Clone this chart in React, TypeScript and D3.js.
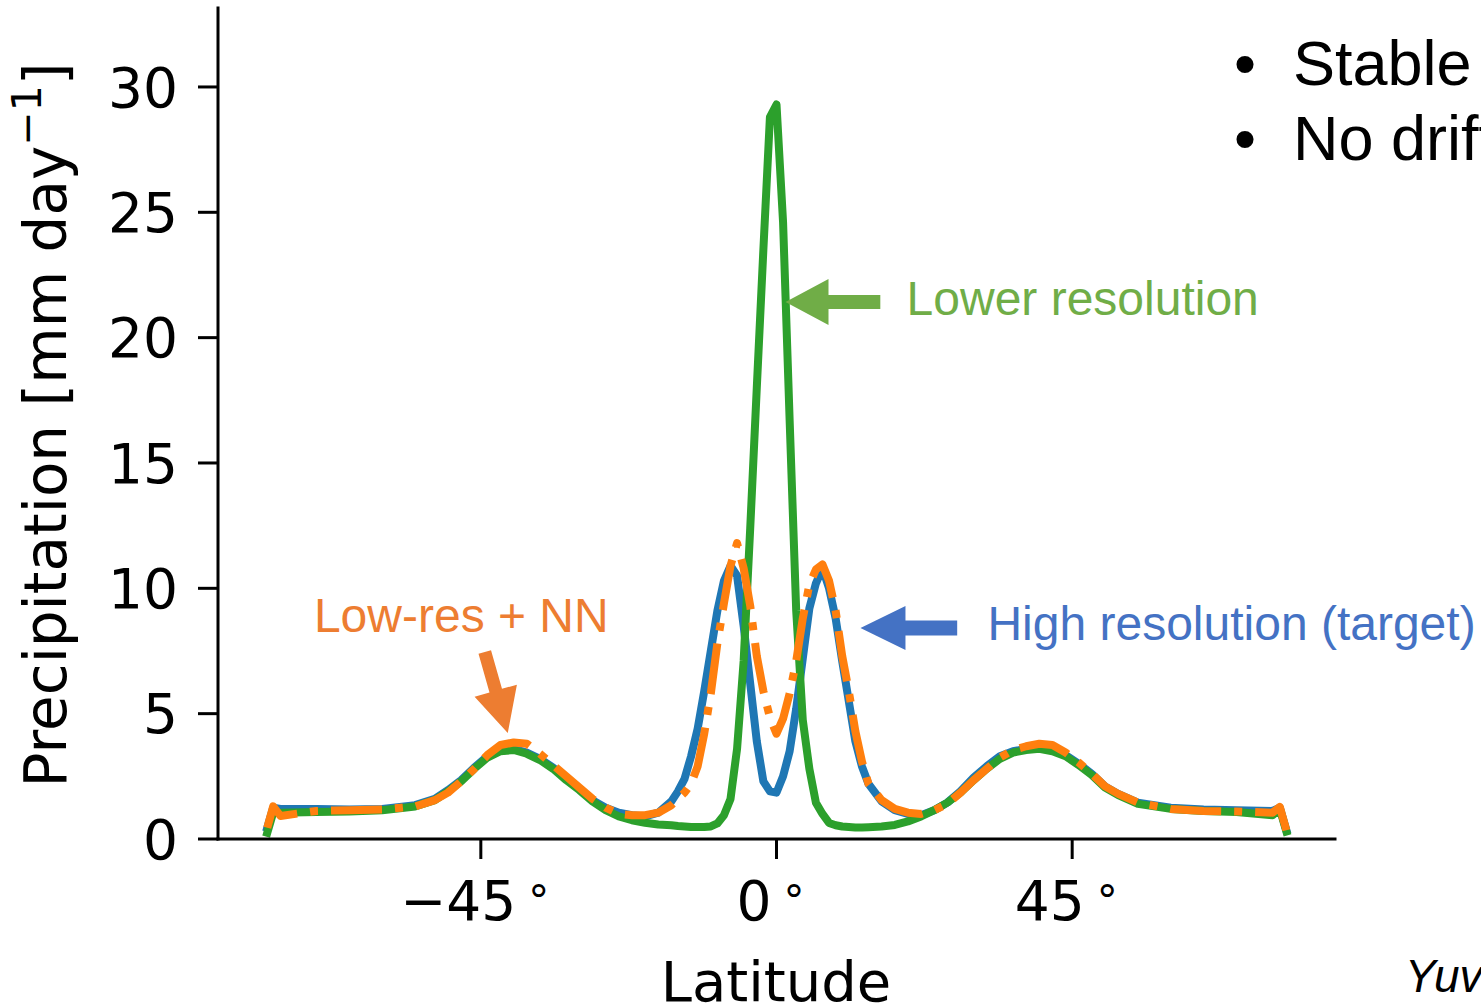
import React from "react";
import * as d3 from "d3";

// zonal mean precipitation
const latitude = [
  -77.5, -76.6, -75.5, -70, -65, -60, -55, -52, -50, -48, -46, -44, -42, -40, -38, -36, -34, -32, -30, -28,
  -26, -24, -22, -20, -18, -16, -15, -14, -13, -12, -11, -10, -9, -8, -7, -6, -5, -4, -3, -2, -1, 0,
  1, 2, 3, 4, 5, 6, 7, 8, 9, 10, 11, 12, 13, 14, 16, 18, 20, 22, 24, 26, 28, 30, 32, 34, 36, 38, 40, 42,
  44, 46, 48, 50, 52, 55, 60, 65, 70, 75.5, 76.6, 77.6,
];
const highRes = [
  0.45, 1.25, 1.2, 1.2, 1.18, 1.2, 1.35, 1.6, 1.95, 2.35, 2.85, 3.3, 3.55, 3.6, 3.45, 3.2, 2.85, 2.4, 2.0, 1.55,
  1.25, 1.05, 0.95, 0.9, 1.05, 1.5, 1.9, 2.4, 3.3, 4.4, 5.9, 7.5, 9.1, 10.3, 10.9, 10.5, 8.5, 6.2, 3.9, 2.3, 1.9, 1.85,
  2.5, 3.5, 5.2, 7.2, 9.2, 10.2, 10.8, 10.0, 8.8, 7.1, 5.5, 3.9, 2.9, 2.2, 1.5, 1.15, 1.0, 0.95, 1.15, 1.45, 1.9, 2.45, 2.9, 3.3, 3.5, 3.6, 3.65, 3.55,
  3.35, 3.0, 2.6, 2.1, 1.8, 1.45, 1.25, 1.18, 1.15, 1.12, 1.25, 0.35,
];
const lowRes = [
  0.25, 1.05, 1.05, 1.08, 1.1, 1.15, 1.3, 1.55, 1.9, 2.3, 2.8, 3.25, 3.5, 3.55, 3.4, 3.15, 2.8, 2.35, 1.95, 1.5,
  1.15, 0.9, 0.75, 0.65, 0.58, 0.55, 0.52, 0.5, 0.48, 0.48, 0.48, 0.5, 0.62, 0.95, 1.6, 3.6, 7.1, 12.4, 18.0, 23.5, 28.8, 29.3,
  24.6, 16.7, 9.1, 4.75, 2.8, 1.45, 1.0, 0.64, 0.55, 0.5, 0.48, 0.46, 0.46, 0.47, 0.5, 0.56, 0.7, 0.9, 1.15, 1.45, 1.85, 2.35, 2.8, 3.2, 3.45, 3.55, 3.6, 3.5,
  3.3, 2.95, 2.55, 2.05, 1.75, 1.4, 1.2, 1.12, 1.08, 0.95, 1.2, 0.3,
];
const lowResNN = [
  0.45, 1.3, 0.92, 1.12, 1.15, 1.18, 1.3, 1.55, 1.85, 2.3, 2.8, 3.35, 3.75, 3.85, 3.8, 3.4, 2.95, 2.5, 2.05, 1.6,
  1.25, 1.0, 0.95, 0.95, 1.05, 1.35, 1.6, 1.85, 2.2, 2.9, 4.2, 5.8, 7.8, 9.4, 10.9, 11.8, 10.8, 9.3, 7.3, 5.9, 4.85, 4.2,
  4.8, 5.8, 7.1, 8.8, 10.15, 10.75, 10.95, 10.3, 9.1, 7.3, 5.9, 4.3, 3.1, 2.2, 1.55, 1.2, 1.05, 1.0, 1.15, 1.4, 1.85, 2.35, 2.8, 3.25, 3.55, 3.7, 3.8, 3.75,
  3.45, 3.05, 2.6, 2.1, 1.8, 1.45, 1.2, 1.12, 1.1, 1.05, 1.28, 0.35,
];

const yTicks = [0, 5, 10, 15, 20, 25, 30];
const xTicks = [-45, 0, 45];

const W = 1481;
const H = 1006;
const axisFont = "DejaVu Sans, sans-serif";
const noteFont = "Liberation Sans, Arial, sans-serif";

// block arrow polygon from tail to tip (pixels)
const arrowPoints = (tail, tip, shaftHalf, headLen, headHalf) => {
  const dx = tip[0] - tail[0];
  const dy = tip[1] - tail[1];
  const len = Math.hypot(dx, dy);
  const ux = dx / len, uy = dy / len;
  const nx = -uy, ny = ux;
  const bx = tip[0] - ux * headLen, by = tip[1] - uy * headLen;
  const pts = [
    [tail[0] + nx * shaftHalf, tail[1] + ny * shaftHalf],
    [bx + nx * shaftHalf, by + ny * shaftHalf],
    [bx + nx * headHalf, by + ny * headHalf],
    tip,
    [bx - nx * headHalf, by - ny * headHalf],
    [bx - nx * shaftHalf, by - ny * shaftHalf],
    [tail[0] - nx * shaftHalf, tail[1] - ny * shaftHalf],
  ];
  return pts.map((p) => p.join(",")).join(" ");
};

export default function App() {
  const x = d3.scaleLinear().domain([-85, 85]).range([218, 1335]);
  const y = d3.scaleLinear().domain([0, 33.15]).range([839, 8]);

  const line = d3
    .line<number>()
    .x((_, i) => x(latitude[i]))
    .y((d) => y(d));

  const fmt = (d: number) => (d < 0 ? "\u2212" : "") + Math.abs(d);

  // annotation anchors in data units
  const greenArrow = arrowPoints([x(15.8), y(21.42)], [x(1.37), y(21.42)], 7, 43, 23);
  const blueArrow = arrowPoints([x(27.5), y(8.42)], [x(12.78), y(8.42)], 7.5, 45, 22);
  const orangeArrow = arrowPoints([x(-44.4), y(7.46)], [x(-40.9), y(4.23)], 6.5, 44, 22);

  return (
    <svg
      width={W}
      height={H}
      style={{ position: "absolute", left: 0, top: 0, display: "block", background: "#fff" }}
    >
      {/* series */}
      <path d={line(highRes)!} fill="none" stroke="#1f77b4" strokeWidth={8} strokeLinejoin="round" strokeLinecap="square" />
      <path d={line(lowRes)!} fill="none" stroke="#2ca02c" strokeWidth={8} strokeLinejoin="round" strokeLinecap="square" />
      <path
        d={line(lowResNN)!}
        fill="none"
        stroke="#ff7f0e"
        strokeWidth={8}
        strokeLinejoin="round"
        strokeLinecap="butt"
        strokeDasharray="51,13,8,13"
      />

      {/* axes */}
      <line x1={218} x2={218} y1={y(33.15)} y2={y(0)} stroke="#000" strokeWidth={3} strokeLinecap="square" />
      <line x1={218} x2={1335} y1={y(0)} y2={y(0)} stroke="#000" strokeWidth={3} strokeLinecap="square" />
      {yTicks.map((t) => (
        <g key={"y" + t}>
          <line x1={198} x2={218} y1={y(t)} y2={y(t)} stroke="#000" strokeWidth={3} />
          <text x={178} y={y(t)} dy="0.36em" textAnchor="end" fontFamily={axisFont} fontSize={55}>
            {t}
          </text>
        </g>
      ))}
      {xTicks.map((t) => (
        <g key={"x" + t}>
          <line x1={x(t)} x2={x(t)} y1={839} y2={859} stroke="#000" strokeWidth={3} />
          <text x={x(t) - 6} y={920} textAnchor="middle" fontFamily={axisFont} fontSize={55}>
            {fmt(t)}
            <tspan dx={12} dy={-4} fontSize={42}>°</tspan>
          </text>
        </g>
      ))}
      <text x={776} y={1001} textAnchor="middle" fontFamily={axisFont} fontSize={56}>
        Latitude
      </text>
      <text transform="translate(66,425) rotate(-90)" textAnchor="middle" fontFamily={axisFont} fontSize={58}>
        Precipitation [mm day
        <tspan dy={-25} fontSize={41}>{"\u22121"}</tspan>
        <tspan dy={25}>]</tspan>
      </text>

      {/* annotations */}
      <polygon points={greenArrow} fill="#70ad47" />
      <text x={x(19.8)} y={315} fontFamily={noteFont} fontSize={48} fill="#70ad47">
        Lower resolution
      </text>
      <polygon points={blueArrow} fill="#4472c4" />
      <text x={x(32.1)} y={640} fontFamily={noteFont} fontSize={48} fill="#4472c4">
        High resolution (target)
      </text>
      <polygon points={orangeArrow} fill="#ed7d31" />
      <text x={x(-70.4)} y={632} fontFamily={noteFont} fontSize={48} fill="#ed7d31">
        Low-res + NN
      </text>

      <text x={1245} y={85} textAnchor="middle" fontFamily={noteFont} fontSize={63}>•</text>
      <text x={1293} y={85} fontFamily={noteFont} fontSize={63}>Stable</text>
      <text x={1245} y={160} textAnchor="middle" fontFamily={noteFont} fontSize={63}>•</text>
      <text x={1293} y={160} fontFamily={noteFont} fontSize={63}>No drift</text>

      <text x={1405} y={992} fontFamily={noteFont} fontStyle="italic" fontSize={46}>
        Yuval
      </text>
    </svg>
  );
}
